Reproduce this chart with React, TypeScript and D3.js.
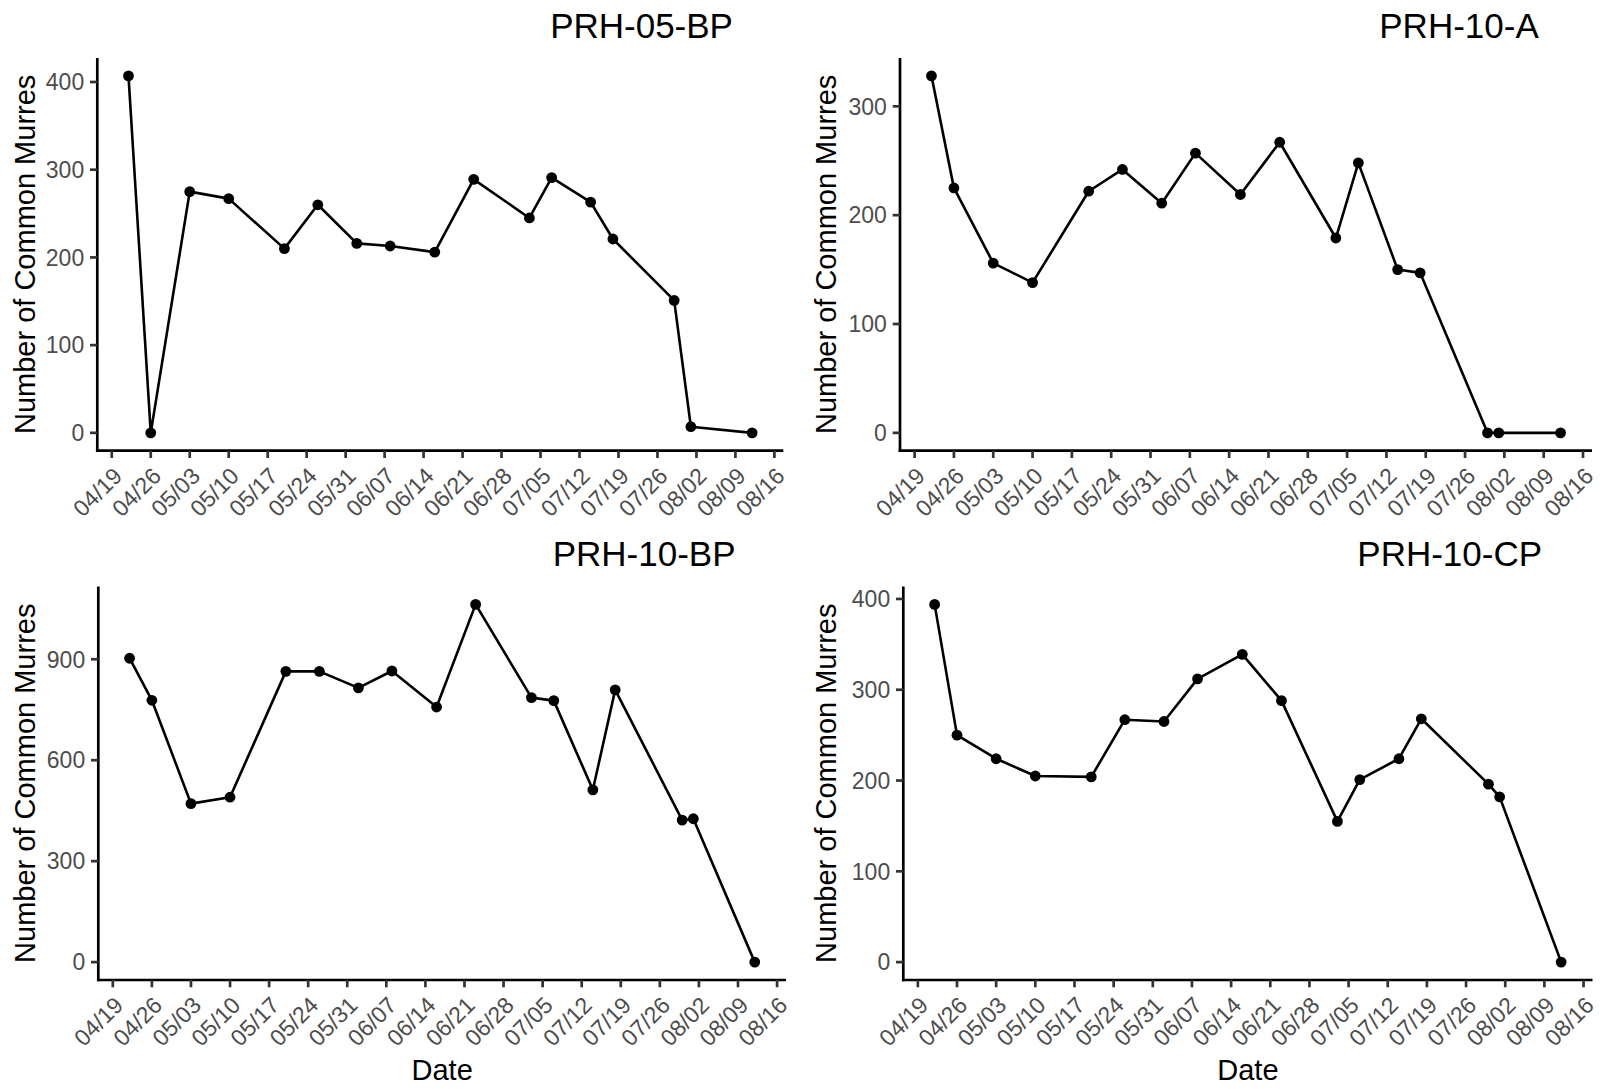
import React from 'react';
import * as d3 from 'd3';

const YEAR = '2021';
const FONT = '"Liberation Sans", Arial, sans-serif';

const tickLabels = ['04/19', '04/26', '05/03', '05/10', '05/17', '05/24', '05/31', '06/07', '06/14',
  '06/21', '06/28', '07/05', '07/12', '07/19', '07/26', '08/02', '08/09', '08/16'];

// survey dates (MM/DD)
const datesA = ['04/22', '04/26', '05/03', '05/10', '05/20', '05/26', '06/02', '06/08', '06/16',
  '06/23', '07/03', '07/07', '07/14', '07/18', '07/29', '08/01', '08/12'];
const datesB = ['04/22', '04/26', '05/03', '05/10', '05/20', '05/26', '06/02', '06/08', '06/16',
  '06/23', '07/03', '07/07', '07/14', '07/18', '07/30', '08/01', '08/12'];

// counts of common murres per site
const prh05bp = [407, 0, 275, 267, 210, 260, 216, 213, 206, 289, 245, 291, 263, 221, 151, 7, 0];
const prh10a = [328, 225, 156, 138, 222, 242, 211, 257, 219, 267, 179, 248, 150, 147, 0, 0, 0];
const prh10bp = [903, 778, 471, 490, 864, 864, 815, 865, 758, 1063, 786, 777, 512, 809, 422, 426, 0];
const prh10cp = [394, 250, 224, 205, 204, 267, 265, 312, 339, 288, 155, 201, 224, 268, 196, 182, 0];

const ticks05bp = [0, 100, 200, 300, 400];
const ticks10a = [0, 100, 200, 300];
const ticks10bp = [0, 300, 600, 900];
const ticks10cp = [0, 100, 200, 300, 400];

const parse = d3.utcParse('%Y/%m/%d');
const toDate = (s: string) => parse(`${YEAR}/${s}`) as Date;

let ctx: CanvasRenderingContext2D | null = null;
function textWidth(t: string, size: number) {
  if (!ctx) ctx = document.createElement('canvas').getContext('2d');
  if (!ctx) return t.length * size * 0.55;
  ctx.font = `${size}px "Liberation Sans", Arial, sans-serif`;
  return ctx.measureText(t).width;
}

type Box = { left: number; right: number; top: number; bottom: number };

function Panel({ title, dates, values, yTicks, box, yTitleX, showDate }: {
  title: string; dates: string[]; values: number[]; yTicks: number[]; box: Box; yTitleX: number; showDate: boolean;
}) {
  const pts = dates.map((d, i) => ({ date: toDate(d), value: values[i] }));
  const [d0, d1] = d3.extent(pts, d => +d.date) as [number, number];
  const dx = (d1 - d0) * 0.05;
  const x = d3.scaleUtc().domain([new Date(d0 - dx), new Date(d1 + dx)]).range([box.left, box.right]);
  const vmax = d3.max(values) as number;
  const dy = vmax * 0.05;
  const y = d3.scaleLinear().domain([-dy, vmax + dy]).range([box.bottom, box.top]);

  const line = d3.line<{ date: Date; value: number }>().x(d => x(d.date)).y(d => y(d.value));

  const titleSize = 35;
  const tw = textWidth(title, titleSize);
  const titleX = box.left + 0.9 * (box.right - box.left - tw);
  const midY = (box.top + box.bottom) / 2;

  return (
    <g>
      <text x={titleX} y={box.top - 20.5} fontSize={titleSize} fill="#000">{title}</text>
      {/* axis lines */}
      <line x1={box.left} x2={box.left} y1={box.top} y2={box.bottom + 1.35} stroke="#000" strokeWidth={2.7} />
      <line x1={box.left - 1.35} x2={box.right} y1={box.bottom} y2={box.bottom} stroke="#000" strokeWidth={2.7} />
      {/* y ticks */}
      {yTicks.map(t => (
        <g key={t}>
          <line x1={box.left - 7.3} x2={box.left} y1={y(t)} y2={y(t)} stroke="#333" strokeWidth={2.7} />
          <text x={box.left - 13.1} y={y(t)} dy="0.36em" textAnchor="end" fontSize={23} fill="#4D4D4D">{t}</text>
        </g>
      ))}
      {/* x ticks */}
      {tickLabels.map(t => {
        const tx = x(toDate(t));
        return (
          <g key={t}>
            <line x1={tx} x2={tx} y1={box.bottom} y2={box.bottom + 7.3} stroke="#333" strokeWidth={2.7} />
            <text transform={`translate(${tx},${box.bottom + 15}) rotate(-45)`} dy="0.72em" textAnchor="end"
              fontSize={23} fill="#4D4D4D">{t}</text>
          </g>
        );
      })}
      <text transform={`translate(${yTitleX},${midY}) rotate(-90)`} textAnchor="middle" fontSize={29} fill="#000">
        Number of Common Murres
      </text>
      {showDate && (
        <text x={(box.left + box.right) / 2} y={1080} textAnchor="middle" fontSize={29} fill="#000">Date</text>
      )}
      <path d={line(pts) || ''} fill="none" stroke="#000" strokeWidth={2.6} strokeLinejoin="round" />
      {pts.map((p, i) => (
        <circle key={i} cx={x(p.date)} cy={y(p.value)} r={5.4} fill="#000" />
      ))}
    </g>
  );
}

export default function App() {
  return (
    <svg width={1608} height={1089} style={{ position: 'absolute', left: 0, top: 0, background: '#fff' }}
      fontFamily={FONT}>
      <rect width={1608} height={1089} fill="#fff" />
      <Panel title="PRH-05-BP" dates={datesA} values={prh05bp} yTicks={ticks05bp}
        box={{ left: 97.3, right: 783.3, top: 58, bottom: 450.7 }} yTitleX={34.5} showDate={false} />
      <Panel title="PRH-10-A" dates={datesB} values={prh10a} yTicks={ticks10a}
        box={{ left: 900, right: 1592, top: 58, bottom: 450.7 }} yTitleX={836} showDate={false} />
      <Panel title="PRH-10-BP" dates={datesB} values={prh10bp} yTicks={ticks10bp}
        box={{ left: 98.3, right: 786, top: 586.5, bottom: 980 }} yTitleX={34.5} showDate={true} />
      <Panel title="PRH-10-CP" dates={datesB} values={prh10cp} yTicks={ticks10cp}
        box={{ left: 903.3, right: 1592.5, top: 586.5, bottom: 980 }} yTitleX={836} showDate={true} />
    </svg>
  );
}
